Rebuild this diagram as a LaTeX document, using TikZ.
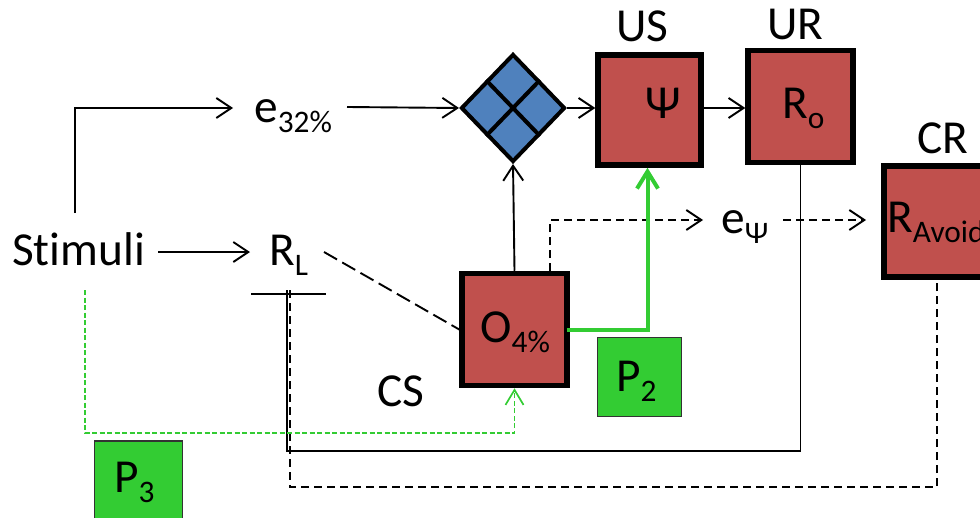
\documentclass[tikz,border=0pt]{standalone}
\usepackage{fontspec}
\setmainfont[Ligatures=NoCommon]{Carlito}
\usetikzlibrary{arrows.meta,shapes.geometric}

\newlength{\du}
\setlength{\du}{0.75pt}
\definecolor{boxred}{rgb}{0.753, 0.314, 0.302}
\definecolor{diablue}{rgb}{0.310, 0.506, 0.741}
\definecolor{pgreen}{rgb}{0.200, 0.800, 0.200}
\newcommand{\subtxt}[2]{#1\raisebox{-10\du}{\fontsize{23.5}{25}\selectfont #2}}

\tikzset{
  txt/.style={anchor=base west,inner sep=0pt,font=\fontsize{35.5}{40}\selectfont},
  redbox/.style={draw=black,fill=boxred,line width=5.5\du,minimum width=#1,minimum height=110\du,inner sep=0pt},
  pbox/.style={draw=black!80,fill=pgreen,line width=1.5\du,inner sep=0pt},
  gate/.style={diamond,draw=black,fill=diablue,line width=4\du,minimum width=104\du,minimum height=108\du,inner sep=0pt},
  wire/.style={draw=black,line width=1.9\du},
  arrowed/.style={-{Straight Barb[length=11.25pt,width=15pt]}},
  dashwire/.style={wire,dash pattern=on 8\du off 5\du},
  longdash/.style={wire,dash pattern=on 15\du off 6\du},
  greenthick/.style={draw=pgreen,line width=4\du,-{Straight Barb[length=12.75pt,width=15.75pt]}},
  greenthin/.style={draw=pgreen,line width=1.7\du,dash pattern=on 5\du off 2.5\du,-{Straight Barb[length=11.25pt,width=13.5pt]}}
}

\begin{document}
\begin{tikzpicture}
\pgftransformxscale{1.000000}
\pgftransformyscale{-1.000000}
\useasboundingbox (0\du,0\du) rectangle (980\du,517\du);
% boxes
\node[gate] (gate) at (513\du,108\du){};
\node[redbox=103\du] (us) at (649.5\du,110\du){};
\node[redbox=105\du,minimum height=112\du] (ur) at (800.5\du,106.5\du){};
\node[redbox=106\du,minimum height=111\du] (cr) at (937\du,221.5\du){};
\node[redbox=105\du,minimum height=112\du] (cs) at (514.5\du,329.5\du){};
\node[pbox,minimum width=84\du,minimum height=79\du] (ptwo) at (639.5\du,377\du){};
\node[pbox,minimum width=88\du,minimum height=80\du] (pthree) at (138.5\du,481\du){};
% cross in the gate
\draw[black,line width=4\du] (gate.north west)--(gate.south east);
\draw[black,line width=4\du] (gate.north east)--(gate.south west);
% free ends
\coordinate (stimup) at (75\du,213\du);
\coordinate (stimturn) at (75\du,108\du);
\coordinate (ethreein) at (233\du,108\du);
\coordinate (ethreeout) at (347\du,107\du);
\coordinate (stimright) at (158\du,252\du);
\coordinate (rlin) at (250\du,252\du);
\coordinate (rlout) at (324\du,252\du);
\coordinate (barleft) at (251\du,294\du);
\coordinate (barright) at (326\du,294\du);
\coordinate (barsolid) at (287\du,290\du);
\coordinate (bardash) at (290\du,290\du);
\coordinate (solidturn) at (287\du,451\du);
\coordinate (dashturn) at (290\du,487\du);
\coordinate (stimgreen) at (85\du,290\du);
\coordinate (greenturn) at (514.5\du,433\du);
\coordinate (dashup) at (550\du,271\du);
\coordinate (epsiin) at (703\du,220\du);
\coordinate (epsiout) at (783\du,220\du);
\coordinate (crin) at (866\du,220\du);
% connectors
\draw[wire,arrowed] (stimup)--(stimturn)--(ethreein);
\draw[wire,arrowed] (ethreeout)--(gate.west);
\draw[wire,arrowed] (gate.east)--(gate.east -| us.west);
\draw[wire,arrowed] (gate.east -| us.east)--(gate.east -| ur.west);
\draw[wire,arrowed] (cs.north)--(gate.south);
\draw[wire,arrowed] (stimright)--(rlin);
\draw[longdash] (rlout)--(cs.west);
\draw[wire] (barleft)--(barright);
\draw[wire] (barsolid)--(solidturn) -| (ur.south);
\draw[dashwire] (bardash)--(dashturn) -| (cr.south);
\draw[dashwire,arrowed] (dashup) |- (epsiin);
\draw[dashwire,arrowed] (epsiout)--(crin);
\draw[greenthick] ([xshift=-3\du]cs.east) -| ([xshift=-2\du]us.south);
\draw[greenthin] (stimgreen) |- (greenturn)--(cs.south);
% labels
\node[txt] (stimuli) at (12\du,265\du){Stimuli};
\node[txt] (ethree) at (254\du,122\du){\subtxt{e}{32\%}};
\node[txt] (rl) at (269\du,265\du){\subtxt{R}{L}};
\node[txt] (epsi) at (721\du,233\du){\subtxt{e}{Ψ}};
\node[txt] (uslabel) at (616\du,42\du){US};
\node[txt] (urlabel) at (767\du,40\du){UR};
\node[txt] (crlabel) at (917\du,153\du){CR};
\node[txt] (cslabel) at (377\du,406\du){CS};
\node[txt] (psi) at (645\du,118\du){Ψ};
\node[txt] (ro) at (782\du,118\du){\subtxt{R}{o}};
\node[txt] (ravoid) at (887\du,232\du){\subtxt{R}{Avoid}};
\node[txt] (ofour) at (480\du,342\du){\subtxt{O}{4\%}};
\node[txt] (ptwolabel) at (616\du,391\du){\subtxt{P}{2}};
\node[txt] (pthreelabel) at (114\du,492\du){\subtxt{P}{3}};
\end{tikzpicture}
\end{document}
